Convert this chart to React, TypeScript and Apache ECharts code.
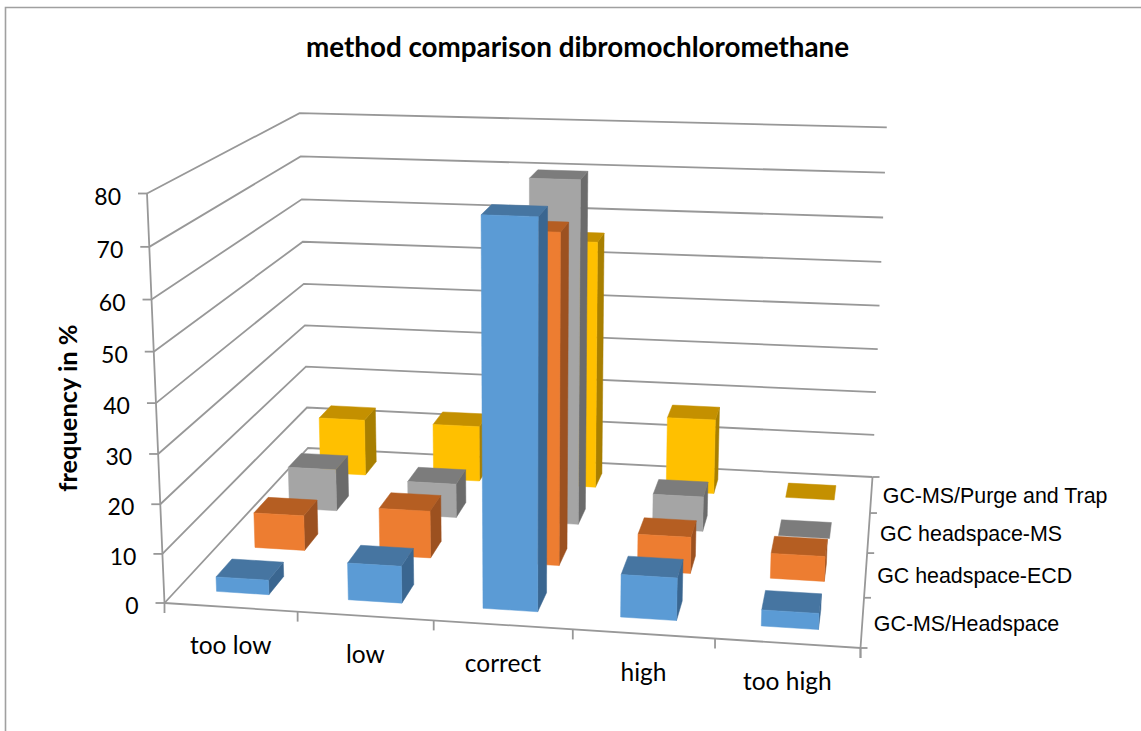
import React, { useEffect, useRef } from "react";
import * as echarts from "echarts";

const titleText = "method comparison dibromochloromethane";
const yAxisTitle = "frequency in %";
const categories = ["too low", "low", "correct", "high", "too high"];
const yTicks = [0, 10, 20, 30, 40, 50, 60, 70, 80];
const rowNames = ["GC-MS/Headspace", "GC headspace-ECD", "GC headspace-MS", "GC-MS/Purge and Trap"];

const headspaceMS = [3, 7.5, 76.5, 8.5, 3.2];
const headspaceECD = [7.5, 10, 68.5, 7.6, 5.2];
const headspaceGCMS = [9.3, 7.5, 74.3, 7.6, 0];
const purgeTrap = [13, 12.8, 56, 17, 0];

const rows = [headspaceMS, headspaceECD, headspaceGCMS, purgeTrap];
const faceColors = [
  { front: "#5B9BD5", top: "#4675A1", side: "#3A6690" },
  { front: "#ED7D31", top: "#B55E22", side: "#9C5120" },
  { front: "#A5A5A5", top: "#7C7C7C", side: "#6B6B6B" },
  { front: "#FFC000", top: "#C49000", side: "#A87F00" },
];

const GRID = { left: 100, top: 100, width: 500, height: 400 };
const LINE = "#989898";
const LINE_W = 1.8;
const BAR_WIDTH = 0.4;

// Corners of the plot box as photographed
const C = {
  o: [164.5, 603], x: [860.5, 648], z: [308, 448], xz: [872.5, 477],
  y: [147, 193.5], yz: [300, 114],
};

function solveProjection() {
  const sub = (a: number[], b: number[]) => [a[0] - b[0], a[1] - b[1]];
  const e1 = sub(C.xz, C.x);
  const e2 = sub(C.xz, C.z);
  const a = [C.xz[0] - C.x[0] - C.z[0] + C.o[0], C.xz[1] - C.x[1] - C.z[1] + C.o[1]];
  const det = e1[0] * e2[1] - e2[0] * e1[1];
  const p = (-a[0] * e2[1] + e2[0] * a[1]) / det;
  const r = (-e1[0] * a[1] + e1[1] * a[0]) / det;
  const b = sub(C.yz, C.y);
  const e3 = sub(C.yz, C.z);
  const a2 = [
    C.yz[0] - C.y[0] - C.z[0] + C.o[0] + r * e3[0],
    C.yz[1] - C.y[1] - C.z[1] + C.o[1] + r * e3[1],
  ];
  const q = -(a2[0] * b[0] + a2[1] * b[1]) / (b[0] * b[0] + b[1] * b[1]);
  const vec = (pt: number[], w: number) => [w * pt[0] - C.o[0], w * pt[1] - C.o[1]];
  const U = vec(C.x, 1 + p);
  const W = vec(C.z, 1 + r);
  const V = vec(C.y, 1 + q);
  return (u: number, v: number, w: number) => {
    const d = 1 + p * u + q * v + r * w;
    return [
      (C.o[0] + u * U[0] + v * V[0] + w * W[0]) / d,
      (C.o[1] + u * U[1] + v * V[1] + w * W[1]) / d,
    ];
  };
}
const project = solveProjection();

const toU = (px: number) => (px - GRID.left) / GRID.width;
const toV = (py: number) => (GRID.top + GRID.height - py) / GRID.height;

const polyline = (points: number[][]) => ({
  type: "polyline",
  silent: true,
  shape: { points },
  style: { fill: "none", stroke: LINE, lineWidth: LINE_W },
});
const label = (text: string, x: number, y: number, align: string, font: string, size: number) => ({
  type: "text",
  silent: true,
  style: { text, x, y, align, verticalAlign: "middle", fontFamily: font, fontSize: size, fill: "#000000" },
});

function renderWallTick(_: any, api: any) {
  const value = api.value(1);
  const v = toV(api.coord([0, value])[1]);
  const front = project(0, v, 0);
  const back = project(0, v, 1);
  const end = project(1, v, 1);
  return {
    type: "group",
    children: [
      polyline([front, back, end]),
      polyline([[front[0] - 9, front[1]], front]),
      label(String(value), front[0] - 26, front[1] + 2, "right", "Lato", 23),
    ],
  };
}

function renderCategory(_: any, api: any) {
  const i = api.value(0);
  const c = api.coord([i, 0]);
  const slot = api.size([1, 0])[0];
  const boundary = project(toU(c[0] + slot / 2), 0, 0);
  const centre = project(toU(c[0]), 0, 0);
  return {
    type: "group",
    children: [
      polyline([boundary, [boundary[0], boundary[1] + 10]]),
      label(categories[i], centre[0], centre[1] + 37.5, "center", "Lato", 24.5),
    ],
  };
}

function renderRow(_: any, api: any) {
  const j = api.value(1) / 10;
  const n = rowNames.length;
  const tick = project(1, 0, (j + 1) / n);
  const mid = project(1, 0, (j + 0.5) / n);
  return {
    type: "group",
    children: [
      polyline([tick, [tick[0] + 7, tick[1]]]),
      label(rowNames[j], mid[0] + 11.5, mid[1] + 1.5, "left", "Liberation Sans", 21.4),
    ],
  };
}

function renderFloor(_: any, api: any) {
  const a = project(0, 0, 0);
  const b = project(1, 0, 0);
  const top = project(0, toV(api.coord([0, 80])[1]), 0);
  const c = project(1, 0, 1);
  return {
    type: "group",
    children: [
      polyline([top, a, [a[0], a[1] + 10]]),
      polyline([a, b, c]),
      polyline([b, [b[0] + 7, b[1]]]),
      polyline([b, [b[0], b[1] + 10]]),
    ],
  };
}

function makeBarRenderer(row: number) {
  const n = rowNames.length;
  const w0 = (row + 0.5 - BAR_WIDTH / 2) / n;
  const w1 = (row + 0.5 + BAR_WIDTH / 2) / n;
  const colours = faceColors[row];
  return (_: any, api: any) => {
    const c = api.coord([api.value(0), api.value(1)]);
    const slot = api.size([1, 0])[0];
    const u0 = toU(c[0] - (slot * BAR_WIDTH) / 2);
    const u1 = toU(c[0] + (slot * BAR_WIDTH) / 2);
    const v = toV(c[1]);
    const face = (points: number[][], fill: string) => ({
      type: "polygon",
      silent: true,
      shape: { points },
      style: { fill, stroke: fill, lineWidth: 0.5 },
    });
    const children: any[] = [];
    if (v > 0) {
      children.push(
        face([project(u1, 0, w0), project(u1, 0, w1), project(u1, v, w1), project(u1, v, w0)], colours.side)
      );
    }
    children.push(
      face([project(u0, v, w0), project(u1, v, w0), project(u1, v, w1), project(u0, v, w1)], colours.top)
    );
    if (v > 0) {
      children.push(
        face([project(u0, 0, w0), project(u1, 0, w0), project(u1, v, w0), project(u0, v, w0)], colours.front)
      );
    }
    return { type: "group", children };
  };
}

export default function App() {
  const ref = useRef<HTMLDivElement>(null);
  useEffect(() => {
    document.body.style.margin = "0";
    const chart = echarts.init(ref.current!, undefined, { renderer: "svg" });
    const enc = { x: 0, y: 1 };
    chart.setOption({
      animation: false,
      backgroundColor: "#ffffff",
      title: {
        text: titleText,
        left: 572.5,
        top: 27,
        textAlign: "center",
        textStyle: { fontFamily: "Lato", fontWeight: "bold", fontSize: 27.8, color: "#000000" },
      },
      grid: GRID,
      xAxis: { type: "category", data: categories, show: false },
      yAxis: { type: "value", min: 0, max: 80, interval: 10, show: false },
      graphic: [
        {
          type: "polyline",
          silent: true,
          shape: { points: [[5.5, 731], [5.5, 7.5], [1141, 7.5]] },
          style: { fill: "none", stroke: "#a0a0a0", lineWidth: 1.6 },
        },
        {
          type: "text",
          silent: true,
          x: 66.5,
          y: 408,
          rotation: Math.PI / 2,
          style: {
            text: yAxisTitle,
            align: "center",
            verticalAlign: "middle",
            fontFamily: "Lato",
            fontWeight: "bold",
            fontSize: 25.4,
            fill: "#000000",
          },
        },
      ],
      series: [
        {
          type: "custom",
          name: "walls",
          z: 1,
          silent: true,
          encode: enc,
          renderItem: renderWallTick,
          data: yTicks.map((t) => [0, t]),
        },
        {
          type: "custom",
          name: "floor",
          z: 1,
          silent: true,
          encode: enc,
          renderItem: renderFloor,
          data: [[0, 0]],
        },
        {
          type: "custom",
          name: "categories",
          z: 1,
          silent: true,
          encode: enc,
          renderItem: renderCategory,
          data: categories.map((_, i) => [i, 0]),
        },
        {
          type: "custom",
          name: "rows",
          z: 1,
          silent: true,
          encode: enc,
          renderItem: renderRow,
          data: rowNames.map((_, j) => [0, j * 10]),
        },
        ...[3, 2, 1, 0].map((row) => ({
          type: "custom",
          name: rowNames[row],
          z: 5 - row + 2,
          silent: true,
          encode: enc,
          renderItem: makeBarRenderer(row),
          data: rows[row].map((v, i) => [i, v]),
        })),
      ],
    });
    return () => chart.dispose();
  }, []);
  return <div ref={ref} style={{ position: "absolute", left: 0, top: 0, width: 1141, height: 731 }} />;
}
